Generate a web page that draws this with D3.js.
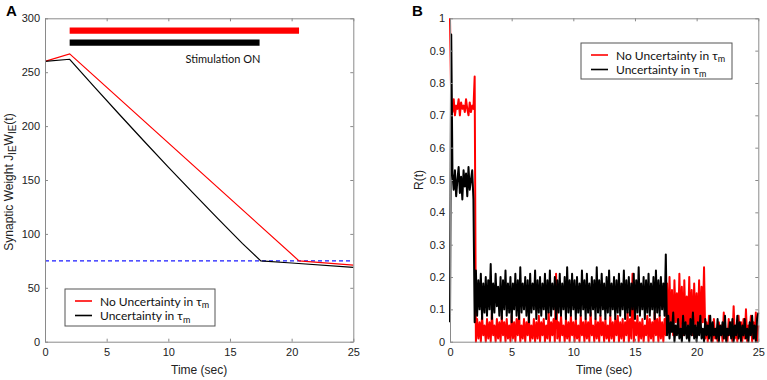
<!DOCTYPE html>
<html lang="en">
<head>
<meta charset="UTF-8">
<title>Synaptic weight and R(t)</title>
<style>
    body { margin: 0; background: #fff; }
    svg { display: block; font-family: "Liberation Sans", Arial, sans-serif; }
    .axis path, .axis line { stroke: #8a8a8a; }
    .axis text { font-size: 11px; fill: #222; }
    .lbl { font-size: 12px; fill: #222; }
    .leg { font-family: Lato, "Open Sans", sans-serif; font-size: 12px; fill: #111; }
    .panel { font-family: "Liberation Sans", Arial, sans-serif; font-weight: bold; font-size: 15px; }
</style>
</head>
<body>
<svg id="chart" width="767" height="380"></svg>
<script src="https://d3js.org/d3.v7.min.js"></script>
<script>
// ---- panel A: synaptic weight
const timeNoUnc = [0, 2, 20.6, 25];
const weightNoUnc = [260, 267, 75, 71];
const timeUnc = [0, 2, 4, 6, 8, 10, 12, 14, 16, 17.5, 20, 25];
const weightUnc = [260, 262, 236.4, 211.2, 186.4, 162, 138, 114.4, 91.2, 75, 73, 69];
const targetWeight = 75;
// stimulation bars (red = no uncertainty, black = uncertainty)
const stimStart = [2, 2];
const stimEnd = [20.6, 17.4];
const stimLevel = [288.5, 277.5];
const ticksA_x = [0, 5, 10, 15, 20, 25];
const ticksA_y = [0, 50, 100, 150, 200, 250, 300];

// ---- panel B: R(t), sampled every 0.1 s from t = 0 to 25
const dtB = 0.1;
const rNoUnc = [
    1.0, 0.74,0.71,0.75,0.70,0.73,0.72,0.75,0.70,0.74,0.72,0.73,0.71,0.75,0.72,0.70,0.74,0.71,0.73,0.72,
    0.82,
    0.00,0.07,0.01,0.06,0.00,0.08,0.02,0.05,0.00,0.07,
    0.01,0.06,0.00,0.09,0.02,0.05,0.00,0.07,0.01,0.06,
    0.00,0.08,0.02,0.06,0.00,0.07,0.01,0.05,0.00,0.08,
    0.01,0.06,0.00,0.07,0.02,0.09,0.00,0.05,0.01,0.07,
    0.00,0.06,0.02,0.08,0.00,0.05,0.01,0.07,0.00,0.06,
    0.01,0.08,0.00,0.06,0.02,0.07,0.00,0.05,0.01,0.09,
    0.00,0.06,0.02,0.07,0.00,0.21,0.01,0.06,0.00,0.08,
    0.02,0.05,0.00,0.07,0.01,0.06,0.00,0.08,0.02,0.06,
    0.00,0.07,0.01,0.05,0.00,0.08,0.02,0.06,0.00,0.07,
    0.01,0.06,0.00,0.09,0.02,0.05,0.00,0.07,0.01,0.06,
    0.00,0.08,0.02,0.06,0.00,0.07,0.01,0.05,0.00,0.08,
    0.01,0.06,0.00,0.07,0.02,0.08,0.00,0.06,0.01,0.07,
    0.00,0.06,0.02,0.09,0.00,0.07,0.01,0.21,0.00,0.06,
    0.02,0.08,0.00,0.06,0.01,0.07,0.00,0.05,0.02,0.08,
    0.00,0.07,0.01,0.06,0.00,0.09,0.02,0.07,0.00,0.08,
    0.01,0.06,0.00,0.07,0.02,
    0.18,0.03,0.20,0.05,0.16,0.02,0.19,0.06,0.15,0.03,
    0.21,0.04,0.17,0.02,0.19,0.05,0.14,0.03,0.20,0.04,
    0.16,0.02,0.18,0.05,0.15,0.03,0.19,0.04,0.17,0.06,
    0.23,
    0.01,0.06,0.00,0.08,0.02,0.05,0.00,0.07,0.01,0.04,
    0.00,0.06,0.02,0.05,0.00,0.09,0.01,0.04,0.00,0.07,
    0.02,0.06,0.00,0.11,0.01,0.05,0.00,0.08,0.02,0.06,
    0.00,0.07,0.01,0.10,0.00,0.05,0.02,0.08,0.00,0.06,
    0.01,0.09,0.00,0.05
];
const rUnc = [
    0.06, 0.95,
    0.52,0.47,0.53,0.45,0.50,0.54,0.46,0.51,0.44,0.53,0.48,0.52,0.45,0.54,0.47,0.50,0.53,0.44,
    0.06,
    0.22,0.08,0.19,0.10,0.21,0.07,0.18,0.09,0.20,0.08,
    0.19,0.10,0.24,0.07,0.18,0.09,0.21,0.11,0.17,0.08,
    0.20,0.07,0.19,0.10,0.22,0.08,0.18,0.09,0.20,0.06,
    0.18,0.10,0.21,0.08,0.19,0.07,0.23,0.09,0.18,0.10,
    0.20,0.08,0.19,0.06,0.21,0.09,0.18,0.10,0.22,0.07,
    0.19,0.09,0.20,0.08,0.18,0.10,0.21,0.07,0.19,0.09,
    0.22,0.08,0.18,0.10,0.20,0.07,0.19,0.09,0.21,0.08,
    0.18,0.10,0.20,0.07,0.23,0.09,0.19,0.08,0.21,0.10,
    0.19,0.07,0.20,0.09,0.18,0.08,0.22,0.10,0.19,0.07,
    0.21,0.09,0.18,0.08,0.20,0.10,0.19,0.07,0.23,0.09,
    0.19,0.08,0.21,0.10,0.18,0.07,0.20,0.09,0.22,0.08,
    0.18,0.10,0.20,0.07,0.19,0.09,0.21,0.08,0.18,0.10,
    0.22,0.07,0.19,0.09,0.20,0.08,0.18,0.10,0.21,0.07,
    0.19,0.09,0.23,0.08,0.18,0.10,0.20,0.07,0.19,0.09,
    0.21,0.08,0.18,0.10,0.20,0.07,0.22,0.09,0.19,0.08,
    0.20,0.10,0.18,0.08,0.27,
    0.02,0.08,0.01,0.06,0.03,0.09,0.00,0.05,0.02,0.07,
    0.01,0.04,0.00,0.08,0.02,0.06,0.01,0.05,0.00,0.07,
    0.02,0.09,0.01,0.05,0.00,0.06,0.02,0.08,0.01,0.04,
    0.00,0.07,0.02,0.05,0.01,0.08,0.00,0.06,0.02,0.04,
    0.01,0.07,0.00,0.05,0.02,0.06,0.01,0.08,0.00,0.04,
    0.02,0.06,0.01,0.07,0.00,0.05,0.02,0.08,0.01,0.06,
    0.00,0.05,0.02,0.07,0.01,0.04,0.00,0.06,0.02,0.08,
    0.01,0.05,0.00,0.07,0.09
];
const ticksB_x = [0, 5, 10, 15, 20, 25];
const ticksB_y = [0, 0.1, 0.2, 0.3, 0.4, 0.5, 0.6, 0.7, 0.8, 0.9, 1];

const legendNames = ["No Uncertainty in τ", "Uncertainty in τ"];
const legendColors = ["#ff0000", "#000000"];

const svg = d3.select("#chart");
const plotTop = 18.3, plotBottom = 341.7;

const xA = d3.scaleLinear().domain([0, 25]).range([45, 353.3]);
const yA = d3.scaleLinear().domain([0, 300]).range([plotBottom, plotTop]);
const xB = d3.scaleLinear().domain([0, 25]).range([450, 758.3]);
const yB = d3.scaleLinear().domain([0, 1]).range([plotBottom, plotTop]);

// box with inward ticks on all four sides, MATLAB style
function drawFrame(x, y, xt, yt, yfmt) {
    const [x0, x1] = x.range();
    const g = svg.append("g");
    g.append("g").attr("class", "axis").attr("transform", `translate(0,${plotBottom})`)
        .call(d3.axisBottom(x).tickValues(xt).tickSizeInner(-3).tickSizeOuter(0).tickPadding(7).tickFormat(d3.format("d")));
    g.append("g").attr("class", "axis").attr("transform", `translate(0,${plotTop})`)
        .call(d3.axisTop(x).tickValues(xt).tickSizeInner(-3).tickSizeOuter(0).tickFormat(""));
    g.append("g").attr("class", "axis").attr("transform", `translate(${x0},0)`)
        .call(d3.axisLeft(y).tickValues(yt).tickSizeInner(-3).tickSizeOuter(0).tickPadding(5).tickFormat(yfmt));
    g.append("g").attr("class", "axis").attr("transform", `translate(${x1},0)`)
        .call(d3.axisRight(y).tickValues(yt).tickSizeInner(-3).tickSizeOuter(0).tickFormat(""));
    g.selectAll(".axis text").style("font-size", "11px");
    return g;
}

function legend(bx, by, bw, bh) {
    const g = svg.append("g");
    g.append("rect").attr("x", bx).attr("y", by).attr("width", bw).attr("height", bh)
        .attr("fill", "#fff").attr("stroke", "#555").attr("stroke-width", 1);
    legendNames.forEach((name, i) => {
        const ly = by + 12 + i * 14.5;
        g.append("line").attr("x1", bx + 10).attr("x2", bx + 27).attr("y1", ly).attr("y2", ly)
            .attr("stroke", legendColors[i]).attr("stroke-width", 1.6);
        const t = g.append("text").attr("class", "leg").attr("x", bx + 35).attr("y", ly + 4.5).text(name);
        t.append("tspan").attr("dy", 2.5).style("font-size", "9px").text("m");
    });
}

// ---------- panel A ----------
const line = d3.line();

svg.append("line")
    .attr("x1", xA(0)).attr("x2", xA(25))
    .attr("y1", yA(targetWeight)).attr("y2", yA(targetWeight))
    .attr("stroke", "#1a1aff").attr("stroke-width", 1.2).attr("stroke-dasharray", "4,3");

svg.append("path")
    .attr("d", line(timeNoUnc.map((t, i) => [xA(t), yA(weightNoUnc[i])])))
    .attr("fill", "none").attr("stroke", "#ff0000").attr("stroke-width", 1.2);
svg.append("path")
    .attr("d", line(timeUnc.map((t, i) => [xA(t), yA(weightUnc[i])])))
    .attr("fill", "none").attr("stroke", "#000").attr("stroke-width", 1.2);

svg.append("g").selectAll("line").data(stimStart).enter().append("line")
    .attr("x1", d => xA(d))
    .attr("x2", (d, i) => xA(stimEnd[i]))
    .attr("y1", (d, i) => yA(stimLevel[i]))
    .attr("y2", (d, i) => yA(stimLevel[i]))
    .attr("stroke", (d, i) => legendColors[i])
    .attr("stroke-width", 6.3);

svg.append("text").attr("class", "leg").attr("x", xA(11.4)).attr("y", yA(258.5))
    .style("font-size", "11px").text("Stimulation ON");

drawFrame(xA, yA, ticksA_x, ticksA_y, d3.format("d"));
legend(65, 289, 150, 37);

svg.append("text").attr("class", "lbl").attr("x", xA(12.5)).attr("y", 374)
    .attr("text-anchor", "middle").style("font-size", "12px").text("Time (sec)");

const ylabA = svg.append("text").attr("class", "lbl")
    .attr("transform", "translate(12.5,182) rotate(-90)")
    .attr("text-anchor", "middle").style("font-size", "12px");
ylabA.append("tspan").text("Synaptic Weight J");
ylabA.append("tspan").attr("dy", 3.5).style("font-size", "10px").text("IE");
ylabA.append("tspan").attr("dy", -3.5).text("W");
ylabA.append("tspan").attr("dy", 3.5).style("font-size", "10px").text("IE");
ylabA.append("tspan").attr("dy", -3.5).text("(t)");

svg.append("text").attr("class", "panel").attr("x", 6).attr("y", 16).text("A");

// ---------- panel B ----------
const tB = rNoUnc.map((v, i) => i * dtB);

svg.append("path")
    .attr("d", line(rNoUnc.map((v, i) => [xB(tB[i]), yB(v)])))
    .attr("fill", "none").attr("stroke", "#ff0000").attr("stroke-width", 2).attr("stroke-linejoin", "round");
svg.append("path")
    .attr("d", line(rUnc.map((v, i) => [xB(tB[i]), yB(v)])))
    .attr("fill", "none").attr("stroke", "#000").attr("stroke-width", 2).attr("stroke-linejoin", "round");

drawFrame(xB, yB, ticksB_x, ticksB_y, d => d === 0 || d === 1 ? String(d) : d3.format(".1f")(d));
legend(581, 43, 151, 36);

svg.append("text").attr("class", "lbl").attr("x", xB(12.5)).attr("y", 374)
    .attr("text-anchor", "middle").style("font-size", "12px").text("Time (sec)");
svg.append("text").attr("class", "lbl")
    .attr("transform", "translate(422.5,180) rotate(-90)")
    .attr("text-anchor", "middle").style("font-size", "12px").text("R(t)");

svg.append("text").attr("class", "panel").attr("x", 412).attr("y", 16).text("B");
</script>
</body>
</html>
